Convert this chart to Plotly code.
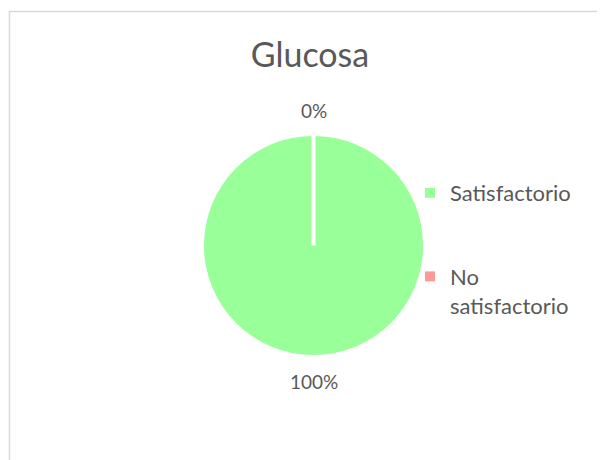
import math
import plotly.graph_objects as go

title_text = "Glucosa"
categories = ["Satisfactorio", "No satisfactorio"]
legend_labels = ["Satisfactorio", "No<br>satisfactorio"]
values = [100, 0]
colors = ["#99FF99", "#FF9999"]

W, H = 605, 460
# geometry in figure pixels (page is offset by the 8px body margin)
cx, cy, r = 305.5, 237.5, 109.5
label_off = 26

dx0, dx1 = (cx - r) / W, (cx + r) / W
dy0, dy1 = 1 - (cy + r) / H, 1 - (cy - r) / H

font = "Lato, 'Open Sans', sans-serif"
txt_color = "#595959"

fig = go.Figure()
fig.add_trace(go.Pie(
    labels=categories,
    values=values,
    marker=dict(colors=colors, line=dict(color="white", width=0)),
    sort=False,
    direction="clockwise",
    rotation=0,
    textinfo="none",
    domain=dict(x=[dx0, dx1], y=[dy0, dy1]),
    showlegend=False,
    hoverinfo="label+percent",
))

# legend entries (square markers, separated groups)
for i, (lab, col) in enumerate(zip(legend_labels, colors)):
    fig.add_trace(go.Scatter(
        x=[None], y=[None], mode="markers", name=lab,
        marker=dict(symbol="square", size=10, color=col),
        legendgroup=f"g{i}", showlegend=True, hoverinfo="skip",
    ))

# percentage labels outside each slice, from the data
total = sum(values)
cum = 0
for v in values:
    frac = (cum + v / 2) / total
    cum += v
    th = 2 * math.pi * frac
    px = cx + (r + label_off) * math.sin(th)
    py = cy - (r + label_off) * math.cos(th)
    fig.add_annotation(x=px / W, y=1 - py / H, xref="paper", yref="paper",
                       text=f"{round(100 * v / total)}%", showarrow=False,
                       xanchor="center", yanchor="middle",
                       font=dict(family=font, size=19, color=txt_color))

# white separator at the 0% slice boundary
fig.add_shape(type="line", xref="paper", yref="paper",
              x0=cx / W, x1=cx / W, y0=1 - cy / H, y1=dy1,
              line=dict(color="white", width=4), layer="above")

# chart border
fig.add_shape(type="rect", xref="paper", yref="paper",
              x0=1.5 / W, x1=1.05, y0=-0.05, y1=1 - 3.5 / H,
              line=dict(color="#d9d9d9", width=1.5), layer="below")

fig.update_layout(
    width=W, height=H,
    margin=dict(l=0, r=0, t=0, b=0),
    paper_bgcolor="white",
    plot_bgcolor="white",
    xaxis=dict(visible=False),
    yaxis=dict(visible=False),
    title=dict(text=title_text, x=302 / W, xanchor="center",
               y=1 - 47 / H, yanchor="middle",
               font=dict(family=font, size=34, color=txt_color)),
    legend=dict(x=402 / W, xanchor="left", y=1 - 164 / H, yanchor="top",
                font=dict(family=font, size=22, color=txt_color),
                valign="top", tracegroupgap=52,
                bgcolor="rgba(0,0,0,0)"),
)

fig.write_html("out.html")
